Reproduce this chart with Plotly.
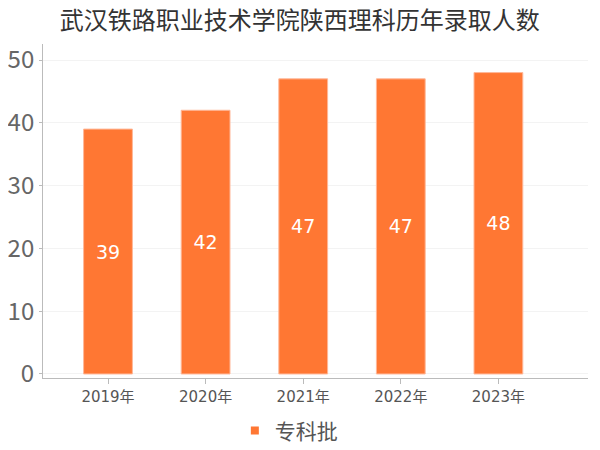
import plotly.graph_objects as go

years = ["2019年", "2020年", "2021年", "2022年", "2023年"]
values = [39, 42, 47, 47, 48]
series_name = "专科批"
title = "武汉铁路职业技术学院陕西理科历年录取人数"

cjk = "Noto Sans CJK SC, DejaVu Sans, sans-serif"
latin = "DejaVu Sans, Noto Sans CJK SC, sans-serif"
bar_color = "#FF7733"

fig = go.Figure()
fig.add_trace(go.Bar(
    x=list(range(len(years))),
    y=values,
    name=series_name,
    showlegend=False,
    text=[str(v) for v in values],
    textposition="inside",
    insidetextanchor="middle",
    textfont=dict(color="white", size=19, family=latin),
    marker=dict(color=bar_color, line=dict(color="#FFB899", width=1)),
    width=0.5,
))
# legend entry with a small square marker
fig.add_trace(go.Scatter(
    x=[None], y=[None], mode="markers", name=series_name,
    marker=dict(symbol="square", size=8, color=bar_color),
    showlegend=True,
))

# the page body adds an 8px offset, so the figure is laid out 8px smaller
fig.update_layout(
    width=592, height=442,
    paper_bgcolor="white", plot_bgcolor="white",
    margin=dict(l=35, r=12, t=36, b=72, autoexpand=False),
    title=dict(text=title, x=0.493, xanchor="center", y=0.972, yanchor="middle",
               font=dict(size=24, color="#333333", family=cjk)),
    showlegend=True,
    legend=dict(orientation="h", x=0.352, xanchor="left", y=-0.097, yanchor="top",
                font=dict(size=21, color="#555555", family=cjk),
                itemwidth=30),
    font=dict(family=cjk),
)
fig.update_xaxes(
    tickmode="array", tickvals=list(range(len(years))), ticktext=years,
    range=[-0.666, 4.918],
    showline=True, linecolor="#bbbbbb", linewidth=1,
    ticks="outside", tickcolor="#bbbbbb", ticklen=5,
    tickfont=dict(size=15, color="#555555", family=latin),
    showgrid=False, automargin=False,
)
fig.update_yaxes(
    range=[-0.64, 52.55], tickvals=[0, 10, 20, 30, 40, 50],
    showline=True, linecolor="#bbbbbb", linewidth=1,
    ticks="outside", tickcolor="#bbbbbb", ticklen=3,
    tickfont=dict(size=24, color="#666666", family=cjk),
    showgrid=True, gridcolor="#f3f3f3", zeroline=False, automargin=False,
)

fig.write_html("out.html")
